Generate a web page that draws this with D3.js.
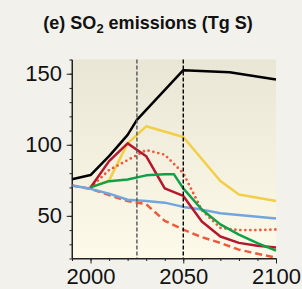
<!DOCTYPE html>
<html>
<head>
<meta charset="utf-8">
<script src="https://cdn.jsdelivr.net/npm/d3@7"></script>
<style>
  body { margin: 0; background: #f2f1ec; }
  svg { display: block; font-family: "Liberation Sans", Arial, Helvetica, sans-serif; }
  .axis path, .axis line { stroke: #222; }
  .axis text { fill: #111; font-size: 22px; font-family: "Liberation Sans", Arial, sans-serif; }
</style>
</head>
<body>
<div id="chart"></div>
<script>
// values (Tg S)
var blackYears  = [1990, 2000, 2010, 2020, 2025, 2050, 2075, 2100];
var blackValues = [75.8, 78.7, 92, 107, 117.5, 152.5, 151, 146];

var yellowYears  = [2000, 2010, 2020, 2030, 2050, 2070, 2080, 2100];
var yellowValues = [70, 75, 101, 113, 105.5, 74.5, 65, 60.5];

var redYears  = [2000, 2010, 2020, 2030, 2040, 2050, 2060, 2070, 2080, 2090, 2100];
var redValues = [70, 88.5, 101, 92, 69.4, 64, 46, 35.5, 31, 29, 27.7];

var greenYears  = [2000, 2010, 2020, 2030, 2040, 2045, 2050, 2060, 2070, 2080, 2090, 2100];
var greenValues = [70, 74.4, 75.6, 78.5, 79.2, 79.2, 69.3, 54.5, 44, 36.8, 30.8, 25.5];

var blueYears  = [1990, 2000, 2010, 2020, 2030, 2040, 2050, 2060, 2070, 2100];
var blueValues = [71.3, 69, 65.6, 61.3, 60.4, 59.3, 56.3, 54.4, 51.8, 48.2];

var dashYears  = [1990, 2000, 2010, 2020, 2030, 2040, 2050, 2060, 2070, 2080, 2090, 2100];
var dashValues = [71.3, 69, 64.6, 60.4, 58.2, 46.5, 40.3, 35, 31, 26.2, 23.4, 20.6];

var dotYears  = [2000, 2010, 2020, 2030, 2040, 2050, 2060, 2070, 2080, 2090, 2100];
var dotValues = [70, 82.2, 89.2, 96.3, 93, 80, 54, 41.5, 40, 40, 40.4];

var xTicks = [2000, 2050, 2100];
var yTicks = [50, 100, 150];
var markerYears = [2025, 2050];

var width = 302, height = 289;
var margin = {top: 59.5, right: 26, bottom: 30.5, left: 72};
var w = width - margin.left - margin.right,
    h = height - margin.top - margin.bottom;

var svg = d3.select("#chart").append("svg")
    .attr("width", width)
    .attr("height", height);

// title
var title = svg.append("text")
    .attr("x", 148)
    .attr("y", 29)
    .attr("text-anchor", "middle")
    .attr("font-weight", "bold")
    .attr("font-size", 18)
    .attr("fill", "#111");
title.append("tspan").text("(e) SO");
title.append("tspan").attr("font-size", 13).attr("dy", 4).text("2");
title.append("tspan").attr("dy", -4).text(" emissions (Tg S)");

var defs = svg.append("defs");
var grad = defs.append("linearGradient")
    .attr("id", "bg")
    .attr("x1", 0).attr("y1", 0).attr("x2", 0).attr("y2", 1);
grad.append("stop").attr("offset", "0%").attr("stop-color", "#e9e6d5");
grad.append("stop").attr("offset", "100%").attr("stop-color", "#fdfaea");

var g = svg.append("g")
    .attr("transform", "translate(" + margin.left + "," + margin.top + ")");

var x = d3.scaleLinear().domain([1990, 2100]).range([0, w]);
var y = d3.scaleLinear().domain([20, 160]).range([h, 0]);

g.append("rect")
    .attr("width", w)
    .attr("height", h)
    .attr("fill", "url(#bg)");

// minor ticks
g.append("g")
    .attr("class", "axis")
    .call(d3.axisLeft(y).tickValues(d3.range(20, 161, 10)).tickSize(2.5).tickFormat(""))
    .call(function(s) { s.select(".domain").remove(); });
g.append("g")
    .attr("class", "axis")
    .attr("transform", "translate(0," + h + ")")
    .call(d3.axisBottom(x).tickValues(d3.range(1990, 2101, 10)).tickSize(2.5).tickFormat(""))
    .call(function(s) { s.select(".domain").remove(); });

// major ticks + labels
g.append("g")
    .attr("class", "axis")
    .call(d3.axisLeft(y).tickValues(yTicks).tickSizeInner(5.3).tickSizeOuter(0).tickPadding(4.7));
g.append("g")
    .attr("class", "axis")
    .attr("transform", "translate(0," + h + ")")
    .call(d3.axisBottom(x).tickValues(xTicks).tickFormat(d3.format("d")).tickSizeInner(5).tickSizeOuter(0).tickPadding(5));

var line = d3.line()
    .x(function(d) { return x(d[0]); })
    .y(function(d) { return y(d[1]); });

function pairs(xs, vs) {
    return xs.map(function(yr, i) { return [yr, vs[i]]; });
}

var series = [
    {data: pairs(blackYears, blackValues), color: "#000000", dash: null},
    {data: pairs(yellowYears, yellowValues), color: "#f2cf45", dash: null},
    {data: pairs(dotYears, dotValues), color: "#ef5a3c", dash: "0,5", cap: "round", width: 2.8},
    {data: pairs(dashYears, dashValues), color: "#ef5a3c", dash: "7,4"},
    {data: pairs(blueYears, blueValues), color: "#72a5dc", dash: null},
    {data: pairs(redYears, redValues), color: "#b5182c", dash: null},
    {data: pairs(greenYears, greenValues), color: "#10a146", dash: null}
];

g.selectAll("path.series")
    .data(series)
    .enter()
    .append("path")
    .classed("series", true)
    .attr("d", function(d) { return line(d.data); })
    .attr("fill", "none")
    .attr("stroke", function(d) { return d.color; })
    .attr("stroke-width", function(d) { return d.width || 2.5; })
    .attr("stroke-linejoin", "round")
    .attr("stroke-linecap", function(d) { return d.cap || "butt"; })
    .attr("stroke-dasharray", function(d) { return d.dash; });

// dashed marker lines
g.selectAll("line.marker")
    .data(markerYears)
    .enter()
    .append("line")
    .classed("marker", true)
    .attr("x1", function(d) { return x(d); })
    .attr("x2", function(d) { return x(d); })
    .attr("y1", 0)
    .attr("y2", h)
    .attr("stroke", function(d, i) { return i === 0 ? "#555" : "#000"; })
    .attr("stroke-width", 1.4)
    .attr("stroke-dasharray", "4,2");

// axis lines on top
g.append("line").attr("x1", 0).attr("x2", 0).attr("y1", 0).attr("y2", h)
    .attr("stroke", "#222").attr("stroke-width", 1);
g.append("line").attr("x1", 0).attr("x2", w).attr("y1", h).attr("y2", h)
    .attr("stroke", "#222").attr("stroke-width", 1);
</script>
</body>
</html>
